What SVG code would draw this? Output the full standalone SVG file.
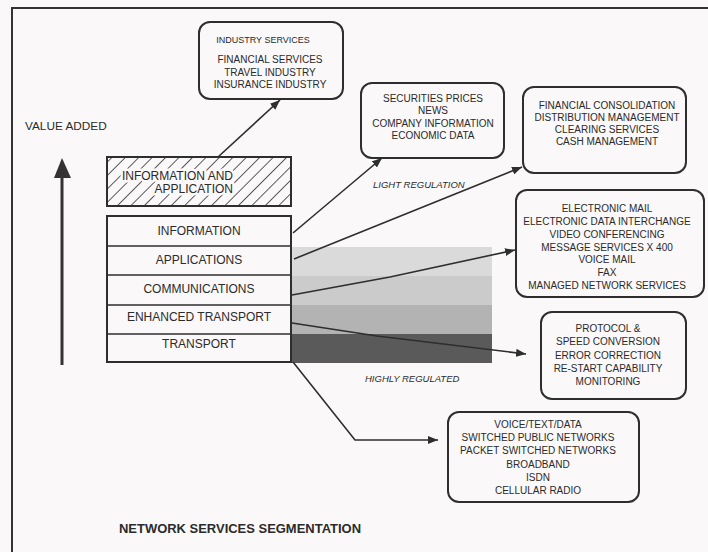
<svg xmlns="http://www.w3.org/2000/svg" width="708" height="552" viewBox="0 0 708 552">
<style>
  text { font-family: "Liberation Sans", Arial, sans-serif; fill: #2b2b2b; }
  .bx { fill: none; stroke: #2e2e2e; stroke-width: 2; }
  .t { font-size: 10px; text-anchor: middle; }
  .st { font-size: 12px; text-anchor: middle; }
  .cn { fill: none; stroke: #2e2e2e; stroke-width: 1.6; }
  .it { font-size: 9.5px; font-style: italic; }
  .row { fill: none; stroke: #2e2e2e; stroke-width: 1.6; }
</style>
<defs>
  <marker id="ah" viewBox="0 0 10 8" refX="10" refY="4" markerWidth="10" markerHeight="8" markerUnits="userSpaceOnUse" orient="auto">
    <path d="M0,0 L10,4 L0,8 z" fill="#2e2e2e"/>
  </marker>
  <pattern id="hatch" patternUnits="userSpaceOnUse" width="9.5" height="9.5" patternTransform="rotate(45)">
    <line x1="0" y1="0" x2="0" y2="9.5" stroke="#333" stroke-width="1.6"/>
  </pattern>
</defs>
<rect width="708" height="552" fill="#faf8f8"/>
<g id="frame">
  <path d="M12,560 L12,8 L720,8" fill="none" stroke="#333" stroke-width="2"/>
</g>
<g id="value-axis">
  <line x1="62" y1="365" x2="62" y2="176" stroke="#333" stroke-width="3"/>
  <path d="M54,178 L62,158 L71,178 z" fill="#333"/>
  <text x="25" y="130" font-size="11.8px">VALUE ADDED</text>
</g>
<g id="regulation-bands">
  <rect x="292" y="247" width="200" height="29" fill="#dadada"/>
  <rect x="292" y="276" width="200" height="29" fill="#cbcbcb"/>
  <rect x="292" y="305" width="200" height="29" fill="#b3b3b3"/>
  <rect x="292" y="334" width="200" height="29" fill="#5a5a5a"/>
</g>
<g id="info-app">
  <rect x="107" y="157" width="184" height="49" fill="url(#hatch)" stroke="#2e2e2e" stroke-width="2"/>
  <g style="paint-order:stroke" stroke="#faf8f8" stroke-width="5" stroke-linejoin="round">
    <text x="233" y="180" font-size="12px" text-anchor="end">INFORMATION AND</text>
    <text x="233" y="193" font-size="12px" text-anchor="end">APPLICATION</text>
  </g>
</g>
<g id="stack">
  <rect x="107" y="216" width="184" height="146" fill="#faf8f8" stroke="#2e2e2e" stroke-width="2"/>
  <line class="row" x1="107" y1="246" x2="291" y2="246"/>
  <line class="row" x1="107" y1="275" x2="291" y2="275"/>
  <line class="row" x1="107" y1="305" x2="291" y2="305"/>
  <line class="row" x1="107" y1="334" x2="291" y2="334"/>
  <text class="st" x="199" y="235">INFORMATION</text>
  <text class="st" x="199" y="264">APPLICATIONS</text>
  <text class="st" x="199" y="293">COMMUNICATIONS</text>
  <text class="st" x="199" y="321">ENHANCED TRANSPORT</text>
  <text class="st" x="199" y="348">TRANSPORT</text>
</g>
<g id="industry">
  <rect class="bx" x="199" y="22" width="144" height="77" rx="11"/>
  <text x="263" y="43" font-size="9px" text-anchor="middle">INDUSTRY SERVICES</text>
  <text class="t" x="270" y="63">FINANCIAL SERVICES</text>
  <text class="t" x="270" y="75.5">TRAVEL INDUSTRY</text>
  <text class="t" x="270" y="88">INSURANCE INDUSTRY</text>
</g>
<g id="securities">
  <rect class="bx" x="361" y="83" width="143" height="75" rx="11"/>
  <text class="t" x="433" y="102">SECURITIES PRICES</text>
  <text class="t" x="433" y="114.3">NEWS</text>
  <text class="t" x="433" y="126.7">COMPANY INFORMATION</text>
  <text class="t" x="433" y="139">ECONOMIC DATA</text>
</g>
<g id="financial">
  <rect class="bx" x="523" y="87" width="163" height="86" rx="11"/>
  <text class="t" x="607" y="109">FINANCIAL CONSOLIDATION</text>
  <text class="t" x="607" y="121">DISTRIBUTION MANAGEMENT</text>
  <text class="t" x="607" y="133">CLEARING SERVICES</text>
  <text class="t" x="607" y="145">CASH MANAGEMENT</text>
</g>
<g id="communications-services">
  <rect class="bx" x="516" y="190" width="188" height="107" rx="11"/>
  <text class="t" x="607" y="212">ELECTRONIC MAIL</text>
  <text class="t" x="607" y="224.8">ELECTRONIC DATA INTERCHANGE</text>
  <text class="t" x="607" y="237.6">VIDEO CONFERENCING</text>
  <text class="t" x="607" y="250.5">MESSAGE SERVICES X 400</text>
  <text class="t" x="607" y="263.3">VOICE MAIL</text>
  <text class="t" x="607" y="276.2">FAX</text>
  <text class="t" x="607" y="289">MANAGED NETWORK SERVICES</text>
</g>
<g id="protocol">
  <rect class="bx" x="541" y="312" width="145" height="87" rx="11"/>
  <text class="t" x="608" y="332">PROTOCOL &amp;</text>
  <text class="t" x="608" y="345.2">SPEED CONVERSION</text>
  <text class="t" x="608" y="358.5">ERROR CORRECTION</text>
  <text class="t" x="608" y="371.7">RE-START CAPABILITY</text>
  <text class="t" x="608" y="385">MONITORING</text>
</g>
<g id="transport-services">
  <rect class="bx" x="448" y="412" width="191" height="90" rx="11"/>
  <text class="t" x="538" y="428">VOICE/TEXT/DATA</text>
  <text class="t" x="538" y="441.2">SWITCHED PUBLIC NETWORKS</text>
  <text class="t" x="538" y="454.4">PACKET SWITCHED NETWORKS</text>
  <text class="t" x="538" y="467.6">BROADBAND</text>
  <text class="t" x="538" y="480.8">ISDN</text>
  <text class="t" x="538" y="494">CELLULAR RADIO</text>
</g>
<g id="connectors">
  <line class="cn" x1="218" y1="157" x2="280" y2="100" marker-end="url(#ah)"/>
  <line class="cn" x1="293" y1="233" x2="382" y2="158" marker-end="url(#ah)"/>
  <line class="cn" x1="294" y1="259" x2="522" y2="167" marker-end="url(#ah)"/>
  <polyline class="cn" points="292,295 390,277 515,250" marker-end="url(#ah)"/>
  <polyline class="cn" points="292,323 377,336 526,354" marker-end="url(#ah)"/>
  <polyline class="cn" points="293,362 355,440 438,440" marker-end="url(#ah)"/>
</g>
<g id="labels">
  <text class="it" x="373" y="188">LIGHT REGULATION</text>
  <text class="it" x="365" y="382">HIGHLY REGULATED</text>
  <text x="119" y="533" font-size="13px" font-weight="bold" textLength="242" lengthAdjust="spacingAndGlyphs">NETWORK SERVICES SEGMENTATION</text>
</g>
</svg>
